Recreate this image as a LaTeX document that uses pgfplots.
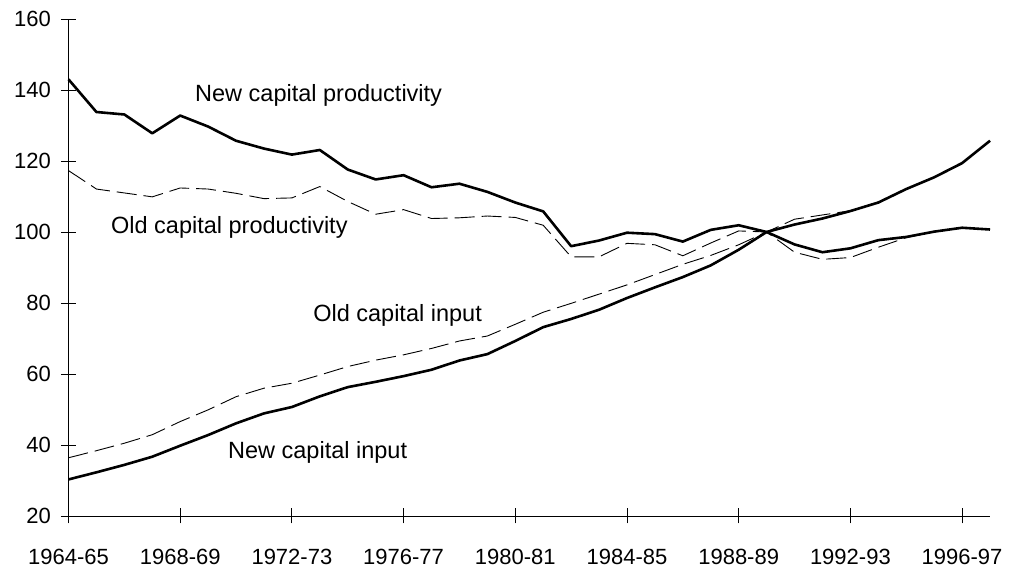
\documentclass[border=0pt]{standalone}
\usepackage{pgfplots}
\pgfplotsset{compat=1.18}
\usepackage{fontspec}
\setmainfont{Liberation Sans}
\pgfplotstableread{
x NCP OCP NCI OCI
0 143.0 117.3 30.3 36.4
1 133.8 112.1 32.3 38.4
2 133.1 111.0 34.4 40.5
3 127.8 109.9 36.7 42.9
4 132.8 112.4 39.8 46.6
5 129.7 112.1 42.8 49.9
6 125.7 110.9 46.1 53.6
7 123.5 109.4 48.9 56.0
8 121.8 109.6 50.7 57.4
9 123.1 112.8 53.7 59.7
10 117.6 108.6 56.3 62.1
11 114.8 105.0 57.8 63.9
12 116.0 106.3 59.4 65.4
13 112.6 103.8 61.2 67.2
14 113.6 104.0 63.8 69.3
15 111.3 104.5 65.6 70.7
16 108.3 104.1 69.3 74.0
17 105.8 101.9 73.2 77.4
18 96.0 93.0 75.5 79.9
19 97.6 93.0 78.1 82.5
20 99.8 96.8 81.4 85.1
21 99.4 96.4 84.4 88.0
22 97.3 93.3 87.3 90.9
23 100.6 96.9 90.6 93.4
24 101.9 100.3 95.0 96.4
25 100.0 100.0 100.0 100.0
26 96.5 94.3 102.1 103.6
27 94.3 92.3 103.8 104.8
28 95.4 92.8 105.9 106.0
29 97.7 95.7 108.3 108.4
30 98.6 98.4 112.1 112.1
31 100.1 100.1 115.4 115.4
32 101.2 101.2 119.4 119.4
33 100.7 100.7 125.7 125.7
}\datatable
\begin{document}
\begin{tikzpicture}[x=1pt,y=1pt]
\useasboundingbox (-68.5,-51) rectangle (940.5,516);
\begin{axis}[
  at={(0,0)}, anchor=south west,
  scale only axis, width=921.5pt, height=497pt,
  xmin=0, xmax=33, ymin=20, ymax=160,
  axis x line*=bottom, axis y line*=left,
  axis line style={-, line width=0.8pt},
  xtick={0,4,...,32},
  xticklabels={1964-65,1968-69,1972-73,1976-77,1980-81,1984-85,1988-89,1992-93,1996-97},
  ytick={20,40,...,160},
  tick align=center, major tick length=15pt,
  tick style={line width=0.8pt, black},
  /pgf/number format/assume math mode=true,
  ticklabel style={font=\fontsize{22}{26}\selectfont, inner sep=0pt},
  yticklabel style={anchor=east, xshift=-10pt},
  xticklabel style={anchor=north, yshift=-25pt},
  clip=false,
]
\addplot[black, line width=0.9pt, dash pattern=on 20pt off 7pt] table[x=x, y=OCP] {\datatable};
\addplot[black, line width=0.9pt, dash pattern=on 20pt off 7pt] table[x=x, y=OCI] {\datatable};
\addplot[black, line width=2.6pt, line join=round] table[x=x, y=NCP] {\datatable};
\addplot[black, line width=2.6pt, line join=round] table[x=x, y=NCI] {\datatable};
\node[anchor=base west, inner sep=0pt, font=\fontsize{23.5}{28}\selectfont] at (axis cs:4.53,136.9) {New capital productivity};
\node[anchor=base west, inner sep=0pt, font=\fontsize{23.5}{28}\selectfont] at (axis cs:1.52,99.6) {Old capital productivity};
\node[anchor=base west, inner sep=0pt, font=\fontsize{23.5}{28}\selectfont] at (axis cs:8.76,74.7) {Old capital input};
\node[anchor=base west, inner sep=0pt, font=\fontsize{23.5}{28}\selectfont] at (axis cs:5.71,36.25) {New capital input};
\end{axis}
\end{tikzpicture}
\end{document}
